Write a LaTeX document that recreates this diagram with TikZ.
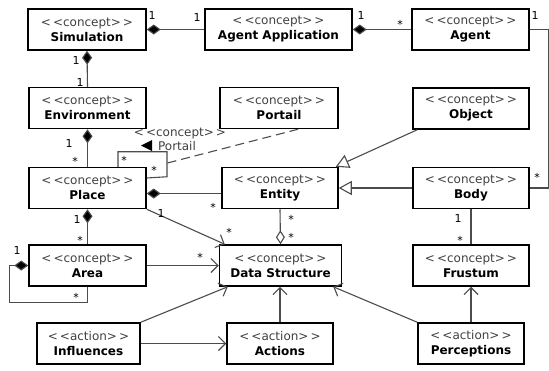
\documentclass[tikz,border=0pt]{standalone}
\usepackage{fontspec}
\setmainfont{DejaVu Sans}
\usetikzlibrary{arrows.meta}
\newcommand{\uml}[2]{{\color{black!75}<\,<#1>\,>}\\\textbf{#2}}

\begin{document}
\begin{tikzpicture}[x=1pt, y=-1pt,
  box/.style={draw, line width=1.5pt, minimum height=41pt, inner sep=0pt, align=center, font=\fontsize{12}{15}\selectfont},
  mult/.style={font=\fontsize{11}{13}\selectfont, inner sep=0pt},
  link/.style={draw=black!70, line width=1.1pt},
  comp/.style={link, {Diamond[fill=black, length=14pt, width=10pt]}-},
  aggr/.style={link, {Diamond[open, fill=white, length=14pt, width=9pt]}-},
  gen/.style={link, -{Triangle[open, fill=white, length=13pt, width=14pt]}},
  use/.style={link, -{Straight Barb[length=7pt, width=14pt]}}]
\useasboundingbox (0,0) rectangle (549,370);
\node [box, minimum width=118pt] (sim) at (87,29.5) {\uml{concept}{Simulation}};
\node [box, minimum width=147pt] (app) at (278.5,29.5) {\uml{concept}{Agent Application}};
\node [box, minimum width=117pt] (agent) at (470.5,29.5) {\uml{concept}{Agent}};
\node [box, minimum width=117pt] (env) at (87.5,108) {\uml{concept}{Environment}};
\node [box, minimum width=118pt] (portail) at (279,108) {\uml{concept}{Portail}};
\node [box, minimum width=116pt] (object) at (471,108.5) {\uml{concept}{Object}};
\node [box, minimum width=117pt] (place) at (87.5,188) {\uml{concept}{Place}};
\node [box, minimum width=116pt] (entity) at (280,188) {\uml{concept}{Entity}};
\node [box, minimum width=116pt] (body) at (471,188) {\uml{concept}{Body}};
\node [box, minimum width=117pt] (area) at (87.5,265.5) {\uml{concept}{Area}};
\node [box, minimum width=122pt] (ds) at (280.5,265.5) {\uml{concept}{Data Structure}};
\node [box, minimum width=116pt] (frustum) at (471,265.5) {\uml{concept}{Frustum}};
\node [box, minimum width=103pt] (infl) at (88.5,343.5) {\uml{action}{Influences}};
\node [box, minimum width=106pt] (act) at (280,343.5) {\uml{action}{Actions}};
\node [box, minimum width=106pt] (perc) at (471,343.5) {\uml{action}{Perceptions}};

\draw [comp] (sim.east) -- (app.west);
\draw [comp] (app.east) -- (agent.west);
\draw [link] (agent.east) -- ++(19,0) |- (body.east);
\draw [comp] (sim.south) -- (env.north);
\draw [comp] (env.south) -- (place.north);
\draw [comp] ([yshift=-5.5pt]place.east) -- ([yshift=-5.5pt]place.east -| entity.west);
\draw [comp] (place.south) -- (area.north);
\draw [comp] (area.west) -- ++(-19,0) -- ++(0,37) -| (area.south);
\draw [link] ([xshift=30.5pt]place.north) -- ++(0,-15) -- ++(49,0) -- ++(0,25) -- ([yshift=10pt]place.east);
\coordinate (loopLink) at (167.5,163);
\draw [link, dash pattern=on 9pt off 5pt] (loopLink) -- ([xshift=19pt]portail.south);
\draw [gen] ([xshift=5pt]object.south west) -- ([xshift=-3pt]entity.north east);
\draw [gen] (body.west) -- (entity.east);
\draw [aggr] (ds.north) -- (entity.south);
\draw [link] (body.south) -- (frustum.north);
\draw [use] (place.south east) -- ([xshift=6pt]ds.north west);
\draw [use] (area.east) -- (ds.west);
\draw [use] (infl.north east) -- ([xshift=9pt]ds.south west);
\draw [use] (infl.east) -- (act.west);
\draw [use] (act.north) -- (act.north |- ds.south);
\draw [use] (perc.north west) -- ([xshift=-9pt]ds.south east);
\draw [use] (perc.north) -- (frustum.south);

\node [mult, font=\fontsize{12}{14}\selectfont] (asc) at (180,134) {\color{black!75}<\,<concept>\,>};
\node [mult, font=\fontsize{12}{14}\selectfont] (ascName) at (177,146) {\color{black!75}Portail};
\fill (152,140) -- (141,145.5) -- (152,151) -- cycle;

\node [mult] (m1) at (152,15) {1};
\node [mult] (m2) at (197,17) {1};
\node [mult] (m3) at (361,15) {1};
\node [mult] (m4) at (400,24) {*};
\node [mult] (m5) at (535,15) {1};
\node [mult] (m6) at (537,177) {*};
\node [mult] (m7) at (76,60) {1};
\node [mult] (m8) at (80,82) {1};
\node [mult] (m9) at (69,143) {1};
\node [mult] (m10) at (75,161) {*};
\node [mult] (m11) at (124,160) {*};
\node [mult] (m12) at (154,170) {*};
\node [mult] (m13) at (161,213) {1};
\node [mult] (m14) at (213,207) {*};
\node [mult] (m15) at (77,219) {1};
\node [mult] (m16) at (80,240) {*};
\node [mult] (m17) at (229,232) {*};
\node [mult] (m18) at (291,219) {*};
\node [mult] (m19) at (291,237) {*};
\node [mult] (m20) at (458,218) {1};
\node [mult] (m21) at (460,240) {*};
\node [mult] (m22) at (17,250) {1};
\node [mult] (m23) at (76,297) {*};
\node [mult] (m24) at (200,257) {*};
\end{tikzpicture}
\end{document}
